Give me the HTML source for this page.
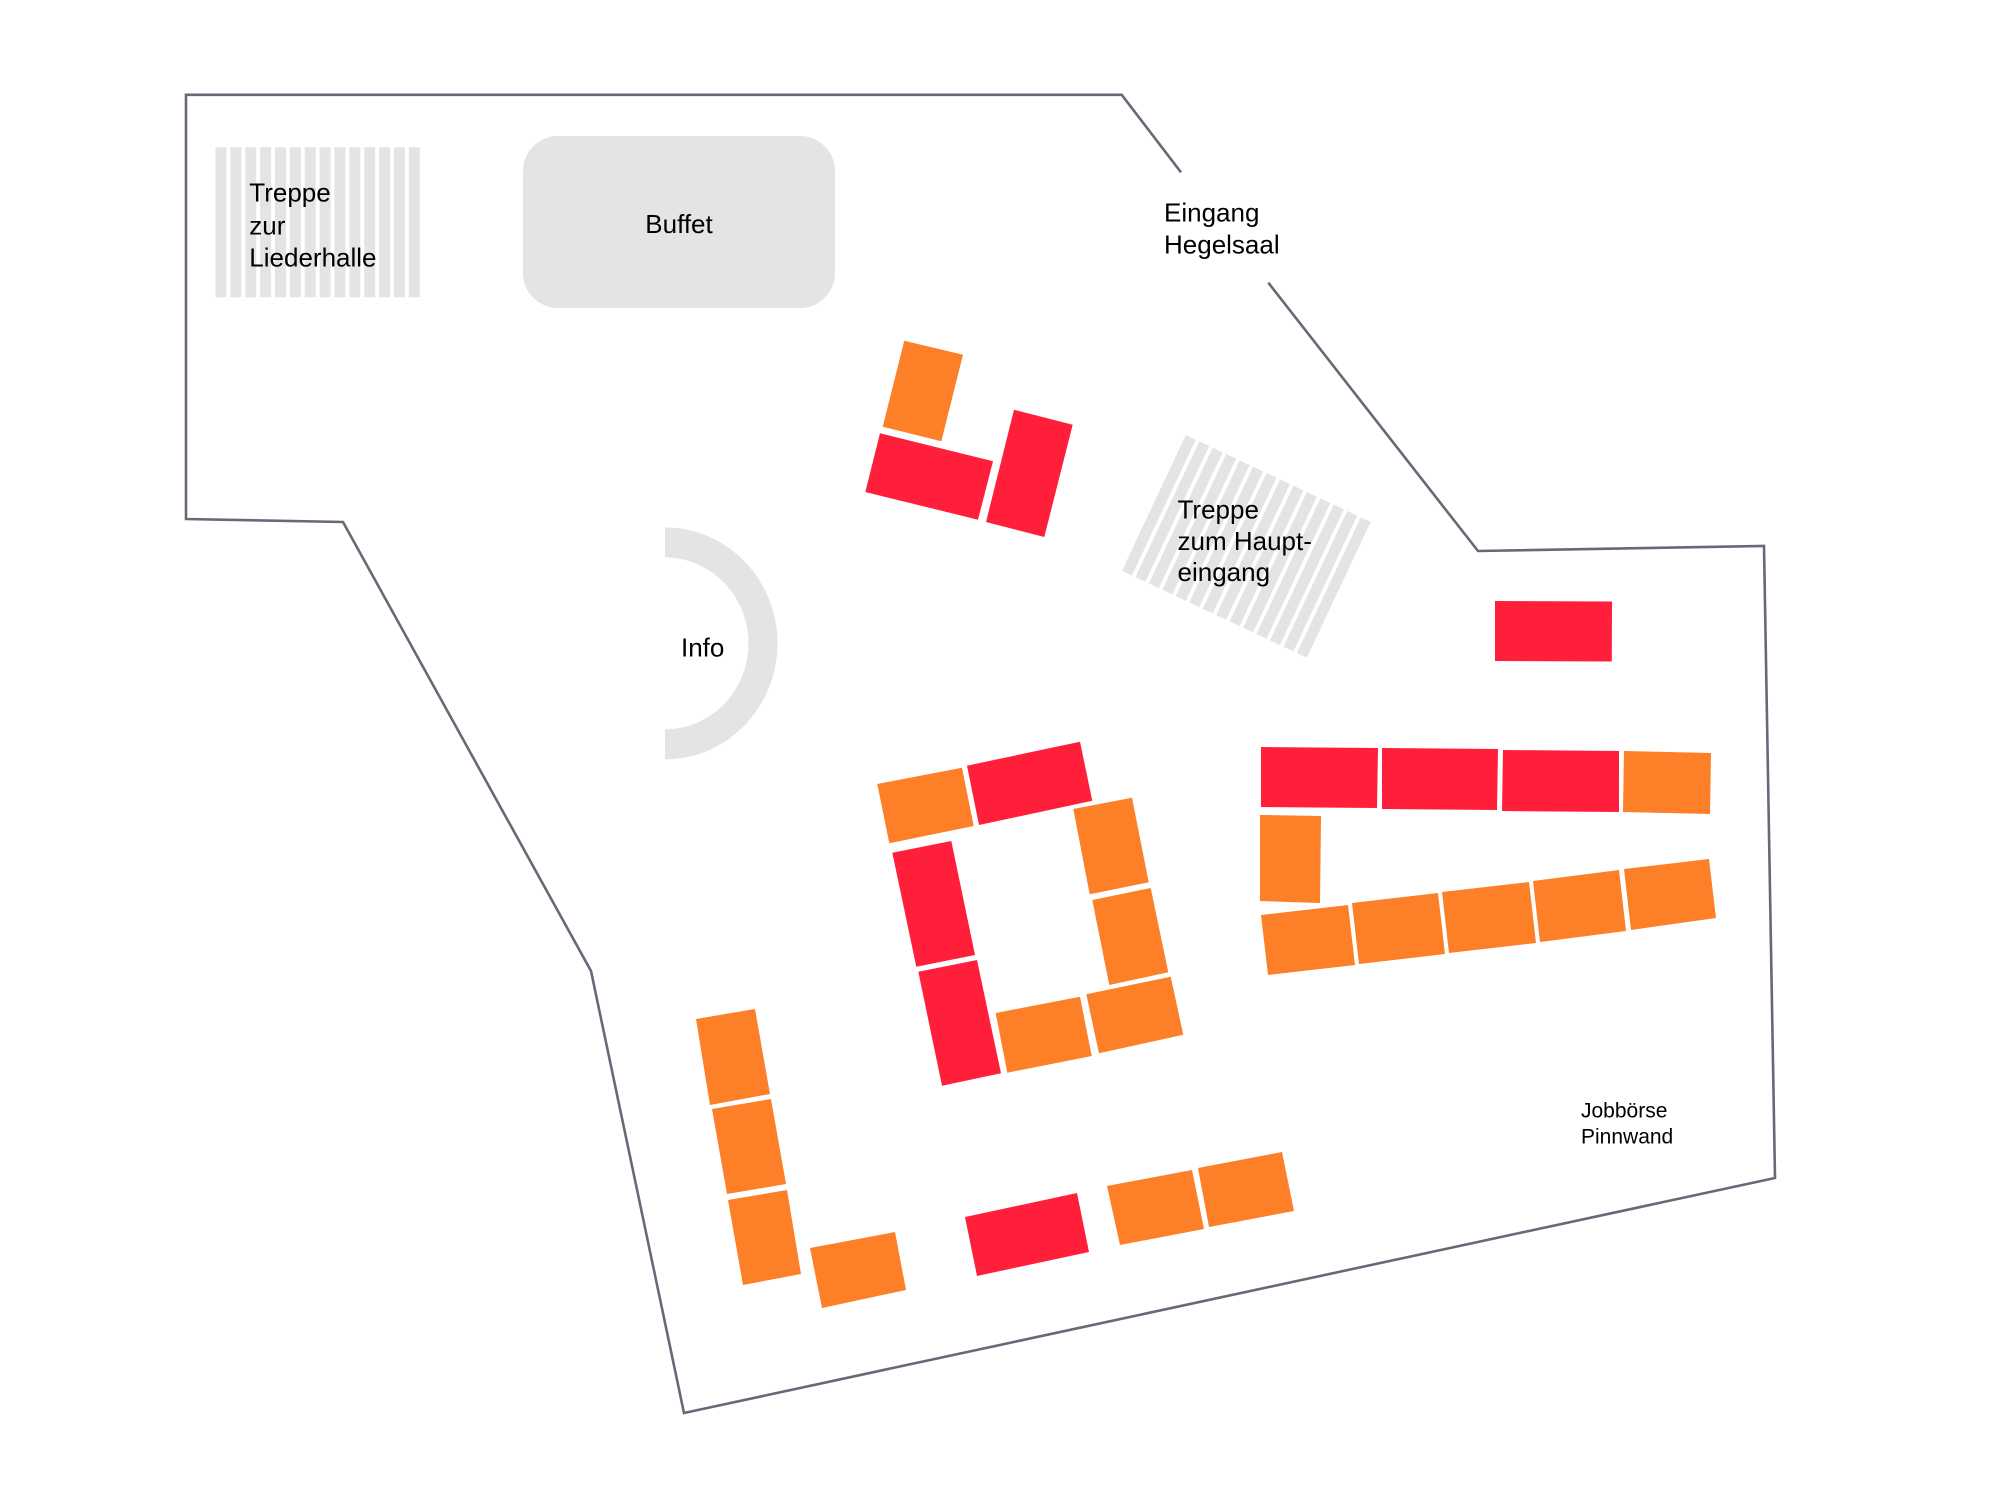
<!DOCTYPE html>
<html>
<head>
<meta charset="utf-8">
<style>
  html, body { margin: 0; padding: 0; background: #ffffff; }
  body { width: 2005px; height: 1490px; overflow: hidden; }
  svg { display: block; }
  text { font-family: "Liberation Sans", Arial, sans-serif; fill: #000; }
</style>
</head>
<body>
<svg width="2005" height="1490" viewBox="0 0 2005 1490" xmlns="http://www.w3.org/2000/svg">
  <defs>
    <g id="stairs">
      <rect x="0" y="0" width="11" height="150" />
      <rect x="14.87" y="0" width="11" height="150" />
      <rect x="29.74" y="0" width="11" height="150" />
      <rect x="44.61" y="0" width="11" height="150" />
      <rect x="59.48" y="0" width="11" height="150" />
      <rect x="74.35" y="0" width="11" height="150" />
      <rect x="89.22" y="0" width="11" height="150" />
      <rect x="104.09" y="0" width="11" height="150" />
      <rect x="118.96" y="0" width="11" height="150" />
      <rect x="133.83" y="0" width="11" height="150" />
      <rect x="148.7" y="0" width="11" height="150" />
      <rect x="163.57" y="0" width="11" height="150" />
      <rect x="178.44" y="0" width="11" height="150" />
      <rect x="193.31" y="0" width="11" height="150" />
    </g>
  </defs>

  <!-- Room outline -->
  <polyline points="1181,172.3 1121.7,94.8 186,94.8 186,519 343,522 591,971 684,1413 1775,1178 1764,546 1478,551 1268.3,282.7"
            fill="none" stroke="#6f6577" stroke-width="2.6" stroke-linejoin="miter"/>

  <!-- Stairs to Liederhalle -->
  <g fill="#e4e4e4" transform="translate(215.5,147.3)">
    <use href="#stairs"/>
  </g>
  <text font-size="26" x="249.3" y="201.7">Treppe</text>
  <text font-size="26" x="249.3" y="234.3">zur</text>
  <text font-size="26" x="249.3" y="266.7">Liederhalle</text>

  <!-- Buffet -->
  <rect x="523" y="136" width="312" height="172" rx="35" ry="35" fill="#e4e4e4"/>
  <text font-size="26" x="679" y="232.8" text-anchor="middle">Buffet</text>

  <!-- Eingang Hegelsaal -->
  <text font-size="26" x="1164" y="221.7">Eingang</text>
  <text font-size="26" x="1164" y="253.3">Hegelsaal</text>

  <!-- Info desk arc -->
  <path d="M665,527.4 A112.5,116 0 0 1 665,759.4 L665,729.4 A83.5,86 0 0 0 665,557.4 Z" fill="#e4e4e4"/>
  <text font-size="26" x="681" y="656.7">Info</text>

  <!-- Stairs to main entrance (rotated) -->
  <g fill="#e4e4e4" transform="translate(1246.2,546.3) rotate(25.2) translate(-102,-75)">
    <use href="#stairs"/>
  </g>
  <text font-size="26" x="1177.5" y="518.3">Treppe</text>
  <text font-size="26" x="1177.5" y="549.8">zum Haupt-</text>
  <text font-size="26" x="1177.5" y="581">eingang</text>

  <!-- Top cluster -->
  <polygon fill="#fd7f28" points="904.3,340.7 963,354.7 941.3,441.3 882.7,426.7"/>
  <polygon fill="#ff1f3b" points="880,433.3 993,461.3 978,519.7 865.3,492"/>
  <polygon fill="#ff1f3b" points="1014,409.7 1072.7,424.7 1044.3,537 986,522"/>

  <!-- Single red right -->
  <polygon fill="#ff1f3b" points="1495,601 1612,601.5 1611.8,661.5 1495,661"/>

  <!-- Square cluster -->
  <polygon fill="#fd7f28" points="877.3,784 962,767.7 973.7,826 889.3,843.3"/>
  <polygon fill="#ff1f3b" points="967,765.7 1080,741.7 1092.3,800.7 979,825"/>
  <polygon fill="#fd7f28" points="1073.3,809 1132,797.7 1148.7,882.3 1089.7,894.3"/>
  <polygon fill="#fd7f28" points="1092.3,900 1150.7,888 1168.3,972.3 1109.3,985"/>
  <polygon fill="#fd7f28" points="1086.3,994.3 1170.7,976.7 1183.3,1034.7 1099,1053.3"/>
  <polygon fill="#fd7f28" points="995.7,1013 1080,996.7 1091.7,1056 1007.3,1072.7"/>
  <polygon fill="#ff1f3b" points="892.3,852.7 951.3,841 975,955 916.3,966.7"/>
  <polygon fill="#ff1f3b" points="918.3,971.7 977,960 1001,1073.3 942,1085.7"/>

  <!-- Right rows -->
  <polygon fill="#ff1f3b" points="1261,747 1378,748 1377,808 1261,807"/>
  <polygon fill="#ff1f3b" points="1382,748 1498,749 1497,810 1382,809"/>
  <polygon fill="#ff1f3b" points="1503,750 1619,751 1619,812 1502,811"/>
  <polygon fill="#fd7f28" points="1624,751 1711,753 1710,814 1623,812"/>
  <polygon fill="#fd7f28" points="1260,815 1321,816 1320,903 1260,901"/>

  <polygon fill="#fd7f28" points="1261,915 1348,905 1355,965 1268,975"/>
  <polygon fill="#fd7f28" points="1352,903 1438,893 1445,954 1359,964"/>
  <polygon fill="#fd7f28" points="1442,892 1529,882 1536,943 1449,953"/>
  <polygon fill="#fd7f28" points="1533,881 1619,870 1626,931 1540,942"/>
  <polygon fill="#fd7f28" points="1624,869 1709,859 1716,918 1631,930"/>

  <!-- Bottom-left L -->
  <polygon fill="#fd7f28" points="696,1019 755,1009 770,1094 710,1105"/>
  <polygon fill="#fd7f28" points="712,1109 771,1099 786,1184 727,1194"/>
  <polygon fill="#fd7f28" points="728,1200 787,1190 801,1274 743,1285"/>
  <polygon fill="#fd7f28" points="810,1248 895,1232 906,1290 822,1308"/>

  <!-- Bottom row -->
  <polygon fill="#ff1f3b" points="965,1217 1077,1193 1089,1252 977,1276"/>
  <polygon fill="#fd7f28" points="1107,1186 1192,1170 1204,1229 1120,1245"/>
  <polygon fill="#fd7f28" points="1198,1168 1282,1152 1294,1211 1209,1227"/>

  <!-- Jobbörse -->
  <text font-size="21" x="1581" y="1117.7">Jobbörse</text>
  <text font-size="21" x="1581" y="1143.3">Pinnwand</text>
</svg>
</body>
</html>
